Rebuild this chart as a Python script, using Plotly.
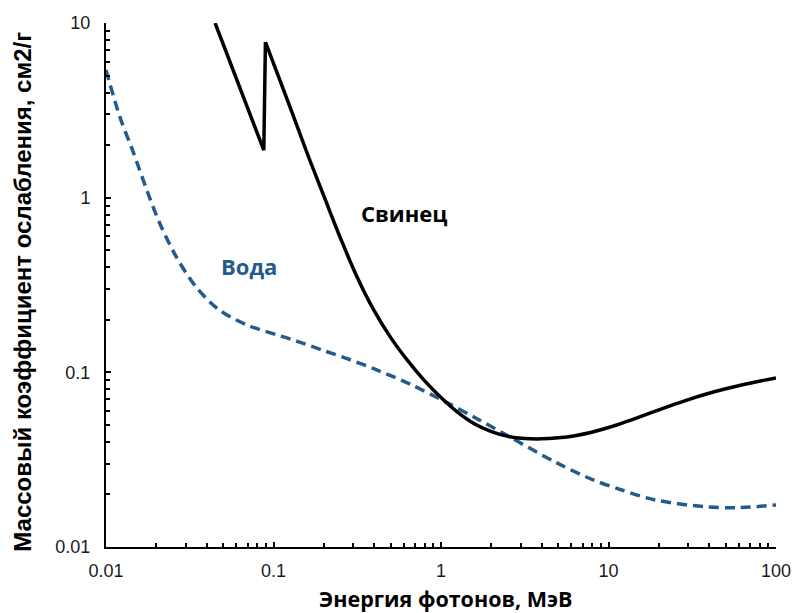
import plotly.graph_objects as go

# Photon energy (MeV) and mass attenuation coefficient (cm2/g)
lead_edge_energy = [0.0448, 0.0875, 0.0895]
lead_edge_mu = [10.0, 1.87, 7.78]

lead_energy = [0.0895, 0.1, 0.126, 0.158, 0.2, 0.251, 0.316, 0.398, 0.501,
               0.631, 0.794, 1.0, 1.26, 1.58, 2.0, 2.51, 3.16, 3.98, 5.01,
               6.31, 7.94, 10, 12.6, 15.8, 20, 25.1, 31.6, 39.8, 50.1, 63.1,
               79.4, 100]
lead_mu = [7.78, 5.87, 3.27, 1.82, 1.02, 0.587, 0.350, 0.226, 0.158, 0.117,
           0.090, 0.0718, 0.059, 0.0508, 0.0458, 0.0430, 0.0418, 0.0416, 0.0422,
           0.0434, 0.0454, 0.0483, 0.052, 0.0562, 0.061, 0.0659, 0.071, 0.0759,
           0.0805, 0.0849, 0.0889, 0.0927]

water_energy = [0.01, 0.0121, 0.0144, 0.0175, 0.0209, 0.0263, 0.0345, 0.0473,
                0.0711, 0.107, 0.14, 0.2, 0.267, 0.4, 0.656, 1.04, 1.6, 2.56,
                4.85, 8.04, 12, 19, 37.5, 60, 100]
water_mu = [5.38, 2.90, 1.87, 1.11, 0.716, 0.458, 0.308, 0.228, 0.185, 0.163,
            0.150, 0.133, 0.121, 0.1045, 0.0855, 0.0685, 0.055, 0.0428, 0.0305,
            0.0243, 0.0212, 0.0186, 0.0170, 0.0168, 0.0174]

x_tickvals = [0.01, 0.1, 1, 10, 100]
x_ticktext = ["0.01", "0.1", "1", "10", "100"]
y_tickvals = [0.01, 0.1, 1, 10]
y_ticktext = ["0.01", "0.1", "1", "10"]

x_minor = [m * 10 ** k for k in range(-2, 2) for m in range(2, 10)]
y_minor = [m * 10 ** k for k in range(-2, 1) for m in range(2, 10)]

WATER = "#245a8c"
W, H = 803, 613
L, R, T, B = 106, 21, 23, 66
PW, PH = W - L - R, H - T - B

fig = go.Figure()
fig.add_trace(go.Scatter(x=water_energy, y=water_mu, mode="lines",
                         line=dict(color=WATER, width=3.5, dash="10px,6px",
                                   shape="spline", smoothing=0.9),
                         showlegend=False))
fig.add_trace(go.Scatter(x=lead_edge_energy, y=lead_edge_mu, mode="lines",
                         line=dict(color="black", width=3.5),
                         showlegend=False))
fig.add_trace(go.Scatter(x=lead_energy, y=lead_mu, mode="lines",
                         line=dict(color="black", width=3.5, shape="spline",
                                   smoothing=1.0),
                         showlegend=False))

tick_font = dict(family="Liberation Sans, Arial, sans-serif", size=18, color="#1a1a1a")
axis_common = dict(type="log", showgrid=False, zeroline=False, showline=True,
                   linecolor="black", linewidth=2, ticks="inside", ticklen=5,
                   tickwidth=1.5, tickcolor="black", tickfont=tick_font,
                   tickmode="array")

fig.update_xaxes(range=[-2, 2], tickvals=x_tickvals, ticktext=x_ticktext,
                 ticklabelstandoff=6,
                 minor=dict(tickmode="array", tickvals=x_minor, ticks="inside",
                            ticklen=4, tickwidth=1.5, tickcolor="black"),
                 **axis_common)
fig.update_yaxes(range=[-2, 1], tickvals=y_tickvals, ticktext=y_ticktext,
                 ticklabelstandoff=10,
                 minor=dict(tickmode="array", tickvals=y_minor, ticks="inside",
                            ticklen=4, tickwidth=1.5, tickcolor="black"),
                 **axis_common)


def px_x(p):
    return (p - L) / PW


def px_y(p):
    return (H - B - p) / PH


annotations = [
    dict(text="Свинец", x=px_x(407), y=px_y(213),
         font=dict(family="Open Sans, sans-serif", size=22, color="black", weight="bold")),
    dict(text="Вода", x=px_x(250), y=px_y(266),
         font=dict(family="Open Sans, sans-serif", size=22, color=WATER, weight="bold")),
    dict(text="Энергия фотонов, МэВ", x=px_x(449), y=px_y(598),
         font=dict(family="Open Sans, sans-serif", size=21.5, color="black", weight="bold")),
    dict(text="Массовый коэффициент ослабления, см2/г", x=px_x(22), y=px_y(292),
         textangle=-90,
         font=dict(family="Liberation Sans, Arial, sans-serif", size=24, color="black",
                   weight="bold")),
]
for a in annotations:
    a.update(xref="paper", yref="paper", showarrow=False,
             xanchor="center", yanchor="middle")

fig.update_layout(width=W, height=H, margin=dict(l=L, r=R, t=T, b=B),
                  plot_bgcolor="white", paper_bgcolor="white",
                  annotations=annotations)

fig.write_html("out.html")
